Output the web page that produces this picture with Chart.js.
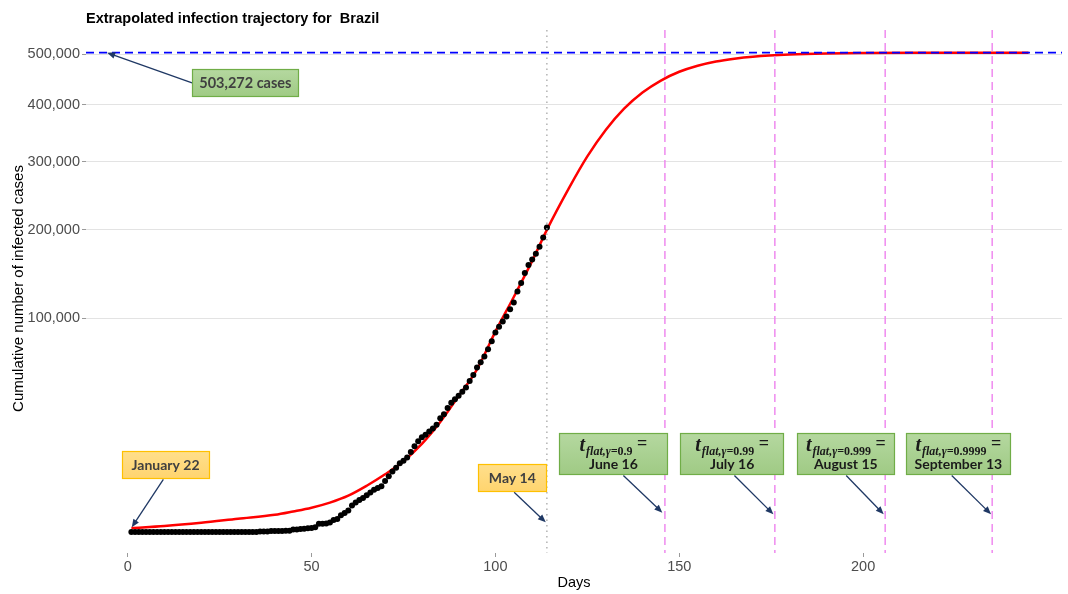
<!DOCTYPE html>
<html><head><meta charset="utf-8">
<script src="https://cdn.jsdelivr.net/npm/chart.js@4/dist/chart.umd.min.js"></script>
<style>html,body{margin:0;padding:0;background:#fff;}#wrap{width:1068px;height:594px;}</style>
</head><body><div id="wrap"><canvas id="c" width="1068" height="594"></canvas></div>
<script>
// ---- data ----
const firstDay = 1; // January 22 = day 1
const observedCases = [
  0,0,0,0,0,0,0,0,0,0, 0,0,0,0,0,0,0,0,0,0, 0,0,0,0,0,0,0,0,0,0, 0,0,0,0,0,
  1,1,1,2,2,2,2,4,4,13, 13,20,25,31,38,52,151,151,162,200,
  321,372,621,793,1021,1546,1924,2247,2554,2985, 3417,3904,4256,4579,5717,6836,8044,9056,10360,11130,
  12161,14034,16170,18092,19638,20727,22192,23430,25262,28320, 30425,33682,36658,38654,40743,43079,45757,50036,54043,59324,
  63100,67446,73235,79685,87187,92202,97100,101826,108620,115455, 126611,135773,146894,156061,162699,169594,178214,190137,203165
];
const fitDays  = [1,10,20,30,40,45,50,55,60,65,70,75,80,85,90,95,100,105,110,114,120,125,130,135,140,145,150,155,160,165,170,180,190,200,215,230,245];
const fitCases = [35,80,190,390,650,930,1300,1900,2900,4700,7300,11000,17000,26500,40500,58000,88000,121000,161000,200000,259000,309000,354000,392500,423000,446500,464000,476300,485000,490800,494900,499500,501700,502600,503100,503240,503265];
const plateauCases = 503272;
const lastObservedDay = 114;
const flatDays   = [146.1, 176.0, 206.0, 235.1];
const flatGammas = ['0.9','0.99','0.999','0.9999'];
const flatDates  = ['June 16','July 16','August 15','September 13'];
const xTickValues = [0,50,100,150,200];
const yTickValues = [100000,200000,300000,400000,500000];

// ---- annotation layout (data coordinates: day, cases) ----
const notes = [
  {kind:'green', text:'503,272 cases', cx:32.0, cy:441700, w:107, h:28, tail:[17.5,441700], tip:[-5.6,plateauCases]},
  {kind:'orange', text:'January 22', cx:10.3, cy:9725, w:88, h:28, tail:[9.7,6100], tip:[1.1,49]},
  {kind:'orange', text:'May 14', cx:104.6, cy:6325, w:69, h:28, tail:[105.1,3460], tip:[113.7,208]},
  {kind:'flat', i:0, cx:132.1, cy:13270, w:109, h:42, tail:[134.8,7000], tip:[145.4,820]},
  {kind:'flat', i:1, cx:164.4, cy:13270, w:104, h:42, tail:[165.0,7000], tip:[175.6,690]},
  {kind:'flat', i:2, cx:195.3, cy:13270, w:98, h:42, tail:[195.4,7000], tip:[205.6,690]},
  {kind:'flat', i:3, cx:225.9, cy:13270, w:105, h:42, tail:[224.1,7000], tip:[234.8,690]}
];

const SANS = '"Liberation Sans", Arial, sans-serif';
const CAL = 'Lato, "Open Sans", sans-serif';
const SERIF = '"Liberation Serif", "DejaVu Serif", serif';

function px(chart, d, v){ return [chart.scales.x.getPixelForValue(d), chart.scales.y.getPixelForValue(Math.sqrt(v))]; }

function arrow(ctx, x1, y1, x2, y2){
  const a = Math.atan2(y2-y1, x2-x1), L = 8, W = 3.3;
  ctx.save();
  ctx.strokeStyle = '#1f3864'; ctx.fillStyle = '#1f3864'; ctx.lineWidth = 1.3;
  ctx.beginPath(); ctx.moveTo(x1,y1); ctx.lineTo(x2-L*0.7*Math.cos(a), y2-L*0.7*Math.sin(a)); ctx.stroke();
  ctx.beginPath(); ctx.moveTo(x2,y2);
  ctx.lineTo(x2-L*Math.cos(a)+W*Math.sin(a), y2-L*Math.sin(a)-W*Math.cos(a));
  ctx.lineTo(x2-L*Math.cos(a)-W*Math.sin(a), y2-L*Math.sin(a)+W*Math.cos(a));
  ctx.closePath(); ctx.fill();
  ctx.restore();
}

function box(ctx, cx, cy, w, h, kind){
  const x = Math.round(cx-w/2), y = Math.round(cy-h/2);
  ctx.save();
  if (kind === 'orange'){
    const g = ctx.createLinearGradient(0,y,0,y+h); g.addColorStop(0,'#ffdf8c'); g.addColorStop(1,'#ffd46e');
    ctx.fillStyle = g; ctx.strokeStyle = '#ffc000';
  } else {
    const g = ctx.createLinearGradient(0,y,0,y+h); g.addColorStop(0,'#b5d8a0'); g.addColorStop(1,'#9fca84');
    ctx.fillStyle = g; ctx.strokeStyle = '#70ad47';
  }
  ctx.fillRect(x,y,w,h);
  ctx.lineWidth = 1.2; ctx.strokeRect(x+0.5,y+0.5,w-1,h-1);
  ctx.restore();
}

const overlay = {
  id:'overlay',
  afterDatasetsDraw(chart){
    const ctx = chart.ctx, ca = chart.chartArea;
    ctx.save();
    // May 14 dotted line
    ctx.strokeStyle = '#a8a8a8'; ctx.lineWidth = 1.3; ctx.setLineDash([1.5,4]);
    let x = chart.scales.x.getPixelForValue(lastObservedDay);
    ctx.beginPath(); ctx.moveTo(x, ca.top); ctx.lineTo(x, ca.bottom); ctx.stroke();
    // flat lines
    ctx.strokeStyle = '#ee82ee'; ctx.lineWidth = 1.4; ctx.setLineDash([8,5]);
    flatDays.forEach(d => { const xx = chart.scales.x.getPixelForValue(d);
      ctx.beginPath(); ctx.moveTo(xx, ca.top); ctx.lineTo(xx, ca.bottom); ctx.stroke(); });
    // plateau
    const yp = chart.scales.y.getPixelForValue(Math.sqrt(plateauCases));
    ctx.strokeStyle = '#0000ff'; ctx.lineWidth = 1.8; ctx.setLineDash([8,5]);
    ctx.beginPath(); ctx.moveTo(ca.left, yp); ctx.lineTo(ca.right, yp); ctx.stroke();
    ctx.setLineDash([]);
    ctx.restore();

    notes.forEach(n => {
      const [cx, cy] = px(chart, n.cx, n.cy);
      const [tx, ty] = px(chart, n.tail[0], n.tail[1]);
      const [hx, hy] = px(chart, n.tip[0], n.tip[1]);
      arrow(ctx, tx, ty, hx, hy);
      box(ctx, cx, cy, n.w, n.h, n.kind);
      ctx.save();
      ctx.fillStyle = n.kind === 'flat' ? '#1a1a1a' : '#404040';
      if (n.kind !== 'flat'){
        ctx.font = 'bold ' + (n.kind==='green' ? '14.5px ' : '14px ') + CAL;
        ctx.textAlign = 'center'; ctx.textBaseline = 'middle';
        ctx.fillText(n.text, cx, cy + 0.5);
      } else {
        const fT = 'bold italic 20px ' + SERIF, fS = 'bold italic 12px ' + SERIF, fE = 'bold 18px ' + SERIF;
        const subA = 'flat,\u03b3=', subB = flatGammas[n.i];
        ctx.font = fT; const wT = ctx.measureText('t').width;
        ctx.font = fS; const wA = ctx.measureText(subA).width;
        ctx.font = 'bold 12px ' + SERIF; const wB = ctx.measureText(subB).width;
        ctx.font = fE; const wE = ctx.measureText(' =').width;
        let sx = cx - (wT + 1 + wA + wB + wE)/2;
        ctx.textBaseline = 'alphabetic'; ctx.textAlign = 'left';
        ctx.font = fT; ctx.fillText('t', sx, cy - 3); sx += wT + 1;
        ctx.font = fS; ctx.fillText(subA, sx, cy + 0.5); sx += wA;
        ctx.font = 'bold 12px ' + SERIF; ctx.fillText(subB, sx, cy + 0.5); sx += wB;
        ctx.font = fE; ctx.fillText(' =', sx, cy - 5);
        ctx.font = 'bold 14px ' + CAL; ctx.textAlign = 'center';
        ctx.fillText(flatDates[n.i], cx, cy + 14.5);
      }
      ctx.restore();
    });
  },
  afterDraw(chart){
    const ctx = chart.ctx, ca = chart.chartArea;
    ctx.save();
    ctx.fillStyle = '#000';
    ctx.font = 'bold 14.5px ' + SANS; ctx.textAlign = 'left'; ctx.textBaseline = 'alphabetic';
    ctx.fillText('Extrapolated infection trajectory for  Brazil', 86, 22.5);
    ctx.font = '14.5px ' + SANS; ctx.textAlign = 'center';
    ctx.fillText('Days', (ca.left + ca.right)/2, 586.5);
    ctx.translate(23, (ca.top + ca.bottom)/2 - 3); ctx.rotate(-Math.PI/2);
    ctx.font = '15px ' + SANS;
    ctx.fillText('Cumulative number of infected cases', 0, 0);
    ctx.restore();
  }
};

const fitPoints = fitDays.map((d,i) => ({x:d, y:Math.sqrt(fitCases[i])}));
const obsPoints = observedCases.map((v,i) => ({x:firstDay + i, y:Math.sqrt(v)}));

new Chart(document.getElementById('c'), {
  type:'scatter',
  data:{ datasets:[
    {type:'scatter', data:obsPoints, order:1, pointRadius:3, pointHoverRadius:3, backgroundColor:'#000', borderWidth:0},
    {type:'line', data:fitPoints, order:2, borderColor:'#ff0000', borderWidth:2.5, pointRadius:0, fill:false, cubicInterpolationMode:'monotone'}
  ]},
  options:{
    responsive:false, animation:false, devicePixelRatio:1,
    layout:{padding:{left:0, right:6, top:30, bottom:0}},
    plugins:{legend:{display:false}, tooltip:{enabled:false}, title:{display:false}},
    scales:{
      x:{type:'linear', min:-11.34, max:254.09,
         afterBuildTicks(s){ s.ticks = xTickValues.map(v => ({value:v})); },
         afterFit(s){ s.height = 41; },
         grid:{drawOnChartArea:false, drawTicks:true, tickLength:4, tickColor:'#9a9a9a', tickWidth:1},
         border:{display:false},
         ticks:{color:'#4d4d4d', font:{family:SANS, size:14.5}, padding:1, maxRotation:0, autoSkip:false}},
      y:{type:'linear', min:-31, max:743,
         afterBuildTicks(s){ s.ticks = yTickValues.map(v => ({value:Math.sqrt(v)})); },
         afterFit(s){ s.width = 86; },
         grid:{color:'#e3e3e3', lineWidth:1, drawTicks:true, tickLength:4, tickColor:'#9a9a9a', tickWidth:1},
         border:{display:false},
         ticks:{color:'#4d4d4d', font:{family:SANS, size:14.5}, padding:2, autoSkip:false,
                callback:(v) => Math.round(v*v).toLocaleString('en-US')}}
    }
  },
  plugins:[overlay]
});
</script></body></html>
